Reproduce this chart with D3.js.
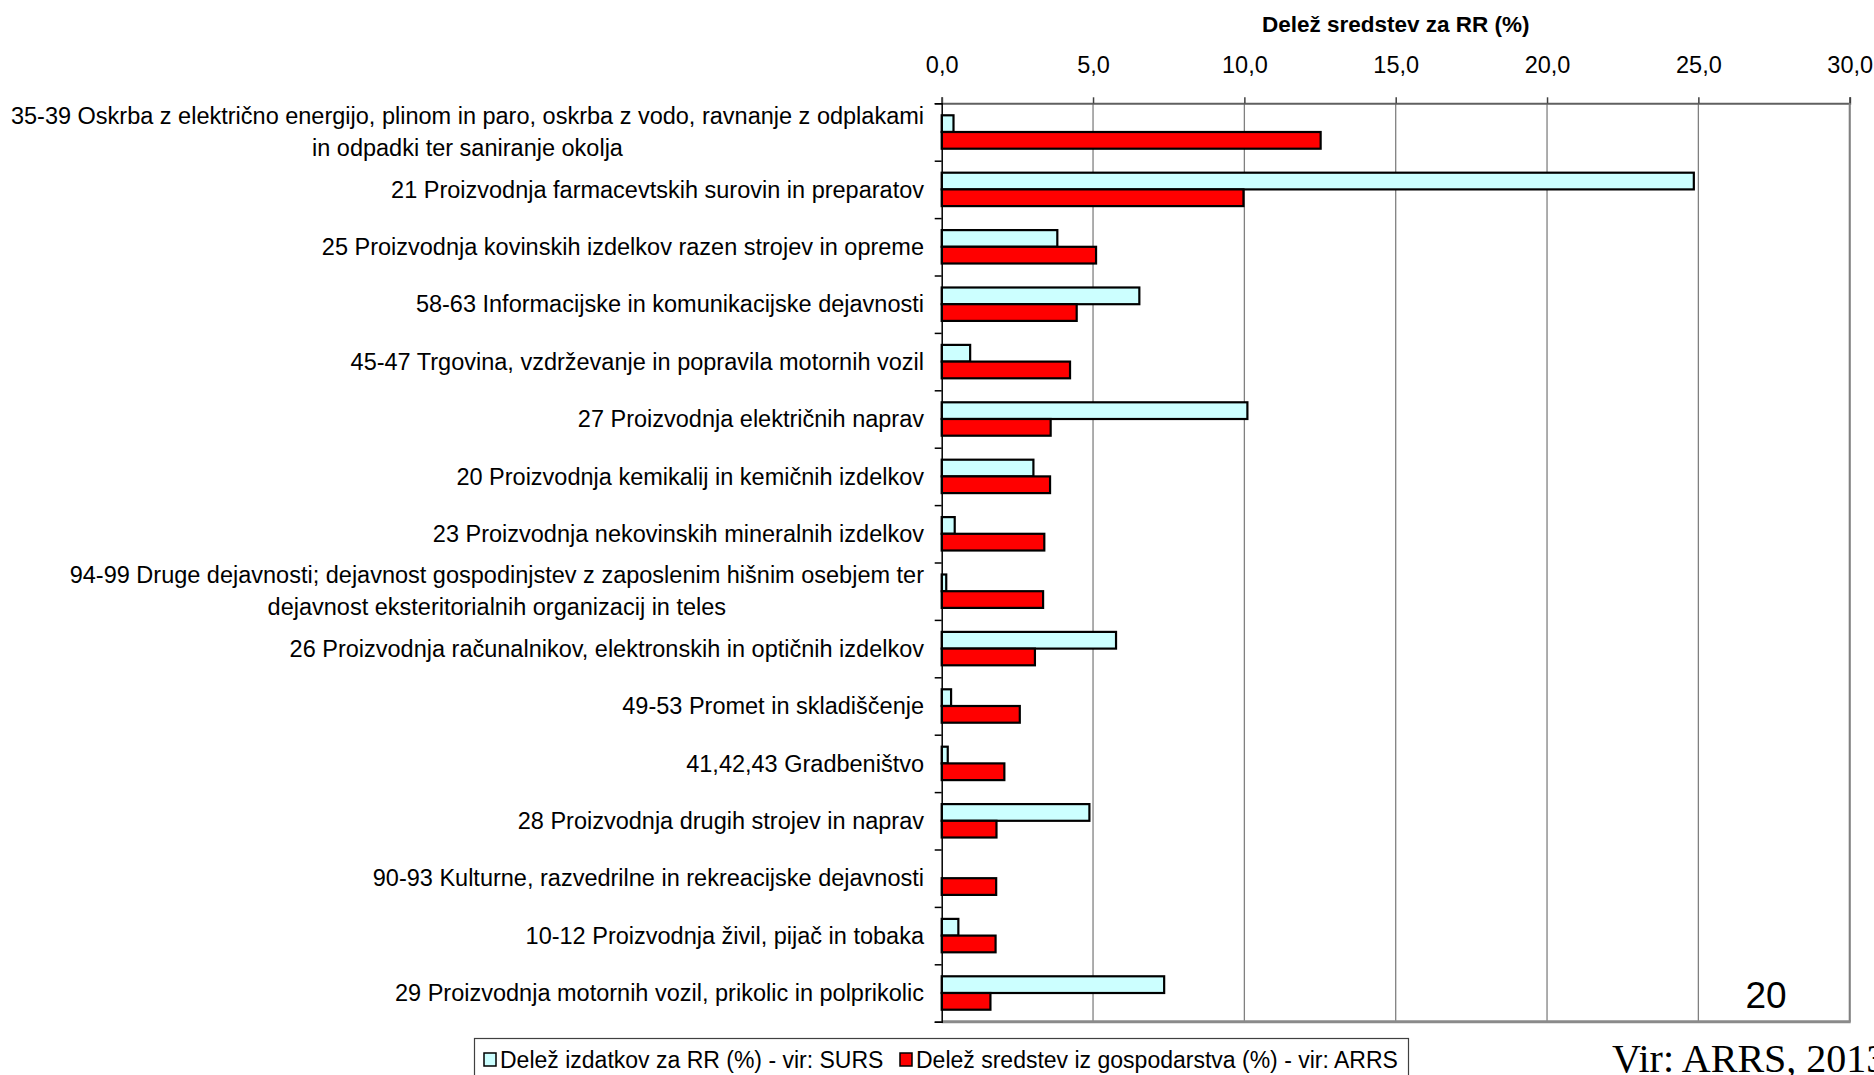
<!DOCTYPE html>
<html>
<head>
<meta charset="utf-8">
<script src="https://cdn.jsdelivr.net/npm/d3@7"></script>
<style>
  html, body { margin: 0; padding: 0; background: #fff; }
  svg { display: block; }
  text { fill: #000; }
</style>
</head>
<body>
<svg id="chart" width="1874" height="1075" font-family="Liberation Sans, Arial, sans-serif"></svg>
<script>
const categories = [
  "35-39 Oskrba z električno energijo, plinom in paro, oskrba z vodo, ravnanje z odplakami\nin odpadki ter saniranje okolja",
  "21 Proizvodnja farmacevtskih surovin in preparatov",
  "25 Proizvodnja kovinskih izdelkov razen strojev in opreme",
  "58-63 Informacijske in komunikacijske dejavnosti",
  "45-47 Trgovina, vzdrževanje in popravila motornih vozil",
  "27 Proizvodnja električnih naprav",
  "20 Proizvodnja kemikalij in kemičnih izdelkov",
  "23 Proizvodnja nekovinskih mineralnih izdelkov",
  "94-99 Druge dejavnosti; dejavnost gospodinjstev z zaposlenim hišnim osebjem ter\ndejavnost eksteritorialnih organizacij in teles",
  "26 Proizvodnja računalnikov, elektronskih in optičnih izdelkov",
  "49-53 Promet in skladiščenje",
  "41,42,43 Gradbeništvo",
  "28 Proizvodnja drugih strojev in naprav",
  "90-93 Kulturne, razvedrilne in rekreacijske dejavnosti",
  "10-12 Proizvodnja živil, pijač in tobaka",
  "29 Proizvodnja motornih vozil, prikolic in polprikolic"
];
const surs = [0.39, 24.85, 3.82, 6.53, 0.94, 10.10, 3.03, 0.43, 0.15, 5.76, 0.31, 0.20, 4.88, 0, 0.55, 7.35];
const arrs = [12.52, 9.97, 5.10, 4.46, 4.24, 3.60, 3.58, 3.39, 3.35, 3.08, 2.58, 2.07, 1.81, 1.80, 1.78, 1.61];
const seriesNames = ["Delež izdatkov za RR (%) - vir: SURS", "Delež sredstev iz gospodarstva (%) - vir: ARRS"];
const seriesKeys = ["surs", "arrs"];
const seriesColors = ["#CCFFFF", "#FF0000"];
const xTicks = [0, 5, 10, 15, 20, 25, 30];
const axisTitle = "Delež sredstev za RR (%)";
const pageNumber = "20";
const sourceNote = "Vir: ARRS, 2013";

const svg = d3.select("#chart");
const pLeft = 941.7, pRight = 1849.7, pTop = 103.3, pBottom = 1021.7;
const labelFont = 23.5;

const x = d3.scaleLinear().domain([0, 30]).range([pLeft, pRight]);
const y = d3.scaleBand().domain(d3.range(categories.length)).range([pTop, pBottom])
  .paddingInner(0.418).paddingOuter(0.209);
const yInner = d3.scaleBand().domain(seriesKeys).range([0, y.bandwidth()]);
const yIdx = d3.scaleLinear().domain([0, categories.length]).range([pTop, pBottom]);

const data = categories.map((c, i) => ({ i, label: c, surs: surs[i], arrs: arrs[i] }));

// gridlines
svg.append("g").selectAll("line").data(xTicks.slice(1)).join("line")
  .attr("x1", d => x(d)).attr("x2", d => x(d))
  .attr("y1", pTop).attr("y2", pBottom)
  .attr("stroke", "#808080").attr("stroke-width", 1.3);

// top axis line + ticks
const topAxis = svg.append("g").attr("transform", `translate(0,${pTop})`)
  .call(d3.axisTop(x).tickValues(xTicks).tickSize(6).tickPadding(24)
    .tickFormat(d => d.toFixed(1).replace(".", ",")));
topAxis.select(".domain").attr("stroke", "#606060").attr("stroke-width", 2);
topAxis.selectAll(".tick line").attr("stroke", "#404040").attr("stroke-width", 1.5);
topAxis.selectAll(".tick text").style("font-size", "23.5px").style("font-family", "Liberation Sans, Arial, sans-serif").attr("fill", "#000");

// right border and bottom line
svg.append("line").attr("x1", pRight).attr("x2", pRight).attr("y1", pTop).attr("y2", pBottom)
  .attr("stroke", "#808080").attr("stroke-width", 2);
svg.append("line").attr("x1", pLeft).attr("x2", pRight + 1).attr("y1", pBottom).attr("y2", pBottom)
  .attr("stroke", "#8a8a8a").attr("stroke-width", 3);

// bars
const groups = svg.append("g").selectAll("g").data(data).join("g")
  .attr("transform", d => `translate(0,${y(d.i)})`);
groups.selectAll("rect").data(d => seriesKeys.map((k, j) => ({ k, j, v: d[k] })).filter(e => e.v > 0))
  .join("rect")
  .attr("x", x(0))
  .attr("y", e => yInner(e.k))
  .attr("width", e => x(e.v) - x(0))
  .attr("height", yInner.bandwidth())
  .attr("fill", e => seriesColors[e.j])
  .attr("stroke", "#000").attr("stroke-width", 2.2);

// left axis with ticks at category boundaries
const leftAxis = svg.append("g").attr("transform", `translate(${pLeft},0)`)
  .call(d3.axisLeft(yIdx).tickValues(d3.range(categories.length + 1)).tickSize(7).tickFormat(""));
leftAxis.select(".domain").attr("stroke", "#000").attr("stroke-width", 1.5);
leftAxis.selectAll(".tick line").attr("stroke", "#000").attr("stroke-width", 1.5);

// category labels
const labelX = 924;
const lineGap = 32;
data.forEach(d => {
  const lines = d.label.split("\n");
  const cy = y(d.i) + y.bandwidth() / 2;
  const g = svg.append("g").style("font-family", "Liberation Sans, Arial, sans-serif").style("font-size", labelFont + "px");
  if (lines.length === 1) {
    g.append("text").attr("x", labelX).attr("y", cy).attr("dy", "0.35em")
      .attr("text-anchor", "end").text(lines[0]);
  } else {
    const t1 = g.append("text").attr("x", labelX).attr("y", cy - lineGap / 2).attr("dy", "0.35em")
      .attr("text-anchor", "end").text(lines[0]);
    const w = t1.node().getComputedTextLength();
    g.append("text").attr("x", labelX - w / 2).attr("y", cy + lineGap / 2).attr("dy", "0.35em")
      .attr("text-anchor", "middle").text(lines[1]);
  }
});

// axis title
svg.append("text").attr("x", (pLeft + pRight) / 2).attr("y", 32)
  .attr("text-anchor", "middle").style("font-size", "22.5px").style("font-weight", "bold").text(axisTitle);

// page number
svg.append("text").attr("x", 1766).attr("y", 1008).attr("text-anchor", "middle")
  .style("font-size", "37px").text(pageNumber);

// legend
const legend = svg.append("g");
legend.append("rect").attr("x", 474.5).attr("y", 1038.5).attr("width", 934).attr("height", 50)
  .attr("fill", "#fff").attr("stroke", "#404040").attr("stroke-width", 1.2);
const legendItems = [{ mx: 484, tx: 500 }, { mx: 900, tx: 916 }];
legendItems.forEach((li, j) => {
  legend.append("rect").attr("x", li.mx).attr("y", 1053).attr("width", 12).attr("height", 13)
    .attr("fill", seriesColors[j]).attr("stroke", "#000").attr("stroke-width", 1.5);
  legend.append("text").attr("x", li.tx).attr("y", 1068).style("font-size", "23px").text(seriesNames[j]);
});

// source note (cut off at the right edge, as in the original slide)
svg.append("text").attr("x", 1612).attr("y", 1072)
  .style("font-family", "'Liberation Serif', 'DejaVu Serif', serif").style("font-size", "40px").text(sourceNote);
</script>
</body>
</html>
